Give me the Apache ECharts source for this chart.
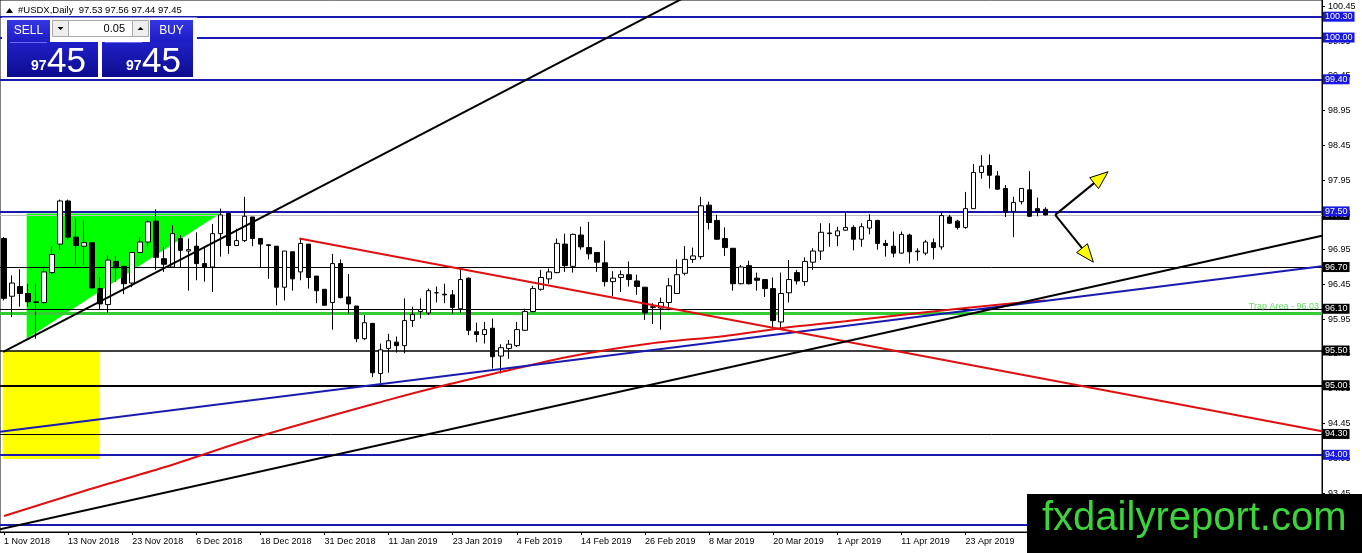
<!DOCTYPE html>
<html><head><meta charset="utf-8">
<script src="https://cdn.jsdelivr.net/npm/echarts@6/dist/echarts.min.js"></script>
<style>html,body{margin:0;padding:0;background:#fff}#c{width:1362px;height:553px}</style>
</head><body><div id="c"></div><script>
const symbolName = '#USDX,Daily';
const dateLabels = ['1 Nov 2018','13 Nov 2018','23 Nov 2018','6 Dec 2018','18 Dec 2018','31 Dec 2018','11 Jan 2019','23 Jan 2019','4 Feb 2019','14 Feb 2019','26 Feb 2019','8 Mar 2019','20 Mar 2019','1 Apr 2019','11 Apr 2019','23 Apr 2019'];
const opens = [97.11,96.28,96.42,96.32,96.19,96.19,96.62,97.03,97.65,97.13,
 97.00,97.05,96.39,96.16,96.78,96.71,96.47,96.91,97.06,97.36,
 96.82,96.70,97.11,96.93,97.00,96.75,96.70,97.18,97.47,97.01,
 97.08,97.42,97.11,97.02,97.00,96.41,96.92,96.63,97.03,96.57,
 96.38,96.19,96.75,96.27,96.14,95.67,95.89,95.17,95.53,95.62,
 95.57,95.93,96.06,96.04,96.33,96.31,96.30,96.10,96.54,95.77,
 95.73,95.82,95.42,95.53,95.57,95.79,96.06,96.38,96.53,96.62,
 97.03,96.71,97.16,96.98,96.91,96.76,96.49,96.55,96.59,96.50,
 96.41,96.12,96.11,96.19,96.32,96.61,96.81,96.85,97.59,97.37,
 97.11,96.97,96.46,96.72,96.54,96.52,96.39,95.91,96.33,96.62,
 96.49,96.77,96.93,97.18,97.15,97.23,97.27,97.10,97.26,97.37,
 97.04,97.00,96.90,97.16,96.92,96.90,97.05,96.99,97.42,97.36,
 97.27,97.54,98.06,98.16,98.01,97.83,97.50,97.64,97.81,97.54,
 97.53];
const closes = [96.25,96.47,96.32,96.20,96.20,96.63,96.88,97.65,97.13,97.01,
 97.05,96.40,96.17,96.80,96.69,96.46,96.91,97.06,97.35,96.84,
 96.74,97.18,96.94,96.95,96.75,96.70,97.18,97.45,97.01,97.08,
 97.43,97.11,97.03,97.01,96.41,96.93,96.53,97.04,96.55,96.36,
 96.15,96.75,96.26,96.17,95.67,95.90,95.18,95.51,95.64,95.57,
 95.93,96.02,96.09,96.36,96.33,96.30,96.12,96.52,95.79,95.73,
 95.80,95.41,95.54,95.59,95.80,96.06,96.39,96.55,96.63,97.04,
 96.72,97.17,96.99,96.89,96.77,96.49,96.54,96.59,96.52,96.42,
 96.04,96.13,96.19,96.43,96.59,96.81,96.86,97.58,97.34,97.10,
 96.98,96.46,96.70,96.46,96.51,96.39,95.93,96.32,96.52,96.50,
 96.78,96.93,97.20,97.19,97.22,97.27,97.10,97.28,97.37,97.04,
 97.01,96.90,97.17,96.92,96.93,97.06,96.98,97.44,97.33,97.27,
 97.54,98.06,98.15,98.02,97.82,97.49,97.63,97.83,97.43,97.49,
 97.45];
const highs = [97.13,96.58,96.67,96.46,96.46,96.71,96.99,97.67,97.67,97.40,
 97.37,97.05,96.55,96.87,96.86,96.71,96.91,97.13,97.37,97.53,
 96.99,97.30,97.16,97.11,97.20,97.00,97.32,97.54,97.47,97.25,
 97.71,97.42,97.11,97.03,97.00,96.93,96.92,97.11,97.03,96.57,
 96.38,96.89,96.81,96.60,96.14,96.01,95.89,95.60,95.74,95.70,
 96.25,96.13,96.25,96.39,96.42,96.46,96.37,96.68,96.55,95.90,
 95.91,95.96,95.59,95.65,95.91,96.10,96.43,96.66,96.68,97.11,
 97.18,97.18,97.28,97.35,96.91,97.08,96.64,96.65,96.78,96.59,
 96.41,96.18,96.26,96.54,96.81,97.00,96.98,97.71,97.64,97.45,
 97.27,96.97,96.73,96.79,96.62,96.52,96.55,96.62,96.80,96.66,
 96.84,96.97,97.33,97.33,97.28,97.49,97.30,97.33,97.46,97.38,
 97.09,97.21,97.21,97.18,96.97,97.09,97.11,97.48,97.45,97.38,
 97.78,98.18,98.31,98.32,98.08,97.88,97.71,97.83,98.08,97.70,
 97.56];
const lows = [96.22,95.98,96.13,96.13,95.67,96.17,96.60,96.94,97.10,96.73,
 96.73,96.39,96.09,96.04,96.49,96.31,96.41,96.90,97.00,96.66,
 96.63,96.70,96.70,96.36,96.51,96.49,96.34,96.85,96.89,97.00,
 97.06,97.00,96.70,96.53,96.15,96.22,96.36,96.51,96.39,96.18,
 96.15,95.80,96.25,96.03,95.62,95.65,95.12,95.03,95.18,95.47,
 95.46,95.84,95.96,96.01,96.19,96.18,96.03,96.04,95.72,95.62,
 95.60,95.24,95.17,95.38,95.55,95.78,96.05,96.36,96.46,96.61,
 96.63,96.62,96.95,96.81,96.63,96.42,96.28,96.34,96.42,96.30,
 95.94,95.88,95.80,96.08,96.32,96.58,96.76,96.81,97.24,97.09,
 96.86,96.36,96.45,96.45,96.36,96.27,95.83,95.82,96.19,96.45,
 96.43,96.66,96.80,96.99,97.00,97.22,96.94,96.99,97.17,96.95,
 96.85,96.84,96.89,96.75,96.79,96.87,96.81,96.95,97.32,97.24,
 97.25,97.54,97.97,97.83,97.81,97.42,97.13,97.60,97.42,97.43,
 97.44];
const slotCount = 165;
const blueLevels = [100.30, 100.00, 99.40, 97.50, 94.00, 93.00];
const blackLevels = [96.70, 96.10, 95.50, 95.00, 94.30];
const trapLevel = 96.03;
const bidLevel = 97.45;
const yTickValues = [93.45, 93.95, 94.45, 94.95, 95.45, 95.95, 96.45, 96.95, 97.45, 97.95, 98.45, 98.95, 99.45, 99.95, 100.45];
const maIndex = [0, 10, 20, 32, 48, 55, 62, 70, 80, 90, 97, 105, 115, 125, 130];
const maValues = [93.12, 93.48, 93.82, 94.27, 94.79, 95.00, 95.19, 95.40, 95.59, 95.71, 95.82, 95.92, 96.05, 96.17, 96.22];
const steepLine = [[-0.1, 95.48], [86, 100.64]];
const lowerLine = [[-0.5, 92.93], [164.5, 97.15]];
const blueTrend = [[-0.5, 94.33], [164.5, 96.71]];
const redDown = [[36.86, 97.11], [164.5, 94.34]];
const greenTriangle = [[2.83, 97.47], [26.96, 97.47], [2.83, 95.67]];
const yellowBox = [[-0.16, 95.49], [11.86, 95.49], [11.86, 93.94], [-0.16, 93.94]];
const arrowApex = [131.2, 97.45];
const arrowTips = [[137.8, 98.07], [135.96, 96.77]];

const FONT = "'Liberation Sans', Arial, sans-serif";
const BLUE_LINE = '#1a1ab0';
const BLUE_TAG = '#1818e0';
const slots = Array.from({length: slotCount}, (_, i) => i);
const lastIdx = closes.length - 1;
const labelOn = (i) => i % 8 === 0 && (i / 8) < dateLabels.length;

function tag(bg) {
  return {show: true, position: 'end', distance: 1, formatter: (p) => p.value.toFixed(2),
    color: '#fff', backgroundColor: bg, padding: [1, 2, 0, 2], fontSize: 9, fontFamily: FONT, lineHeight: 9};
}
const mainLines = [];
blackLevels.forEach(v => mainLines.push({yAxis: v, lineStyle: {color: '#000', width: v === 95.00 ? 2 : (v === 95.50 ? 1.5 : 1), type: 'solid'}, label: tag('#000')}));
blueLevels.forEach(v => mainLines.push({yAxis: v, lineStyle: {color: BLUE_LINE, width: 2, type: 'solid'}, label: tag(BLUE_TAG)}));
mainLines.push({yAxis: trapLevel, lineStyle: {color: '#33cc33', width: 3, type: 'solid'},
  label: {show: true, position: 'insideEndTop', distance: 3, formatter: 'Trap Area - ' + trapLevel.toFixed(2), color: '#66d966', fontSize: 9, fontFamily: FONT}});

function polySeries(points, fill, z) {
  return {type: 'custom', xAxisIndex: 1, yAxisIndex: 0, data: [[0, 95]], z: z, silent: true, animation: false,
    renderItem: (params, api) => ({type: 'polygon', shape: {points: points.map(p => api.coord(p))}, style: {fill: fill}})};
}
function lineSeries(data, color, z, smooth) {
  return {type: 'line', xAxisIndex: 1, yAxisIndex: 0, data: data, symbol: 'none', smooth: smooth || false, z: z,
    silent: true, animation: false, lineStyle: {color: color, width: 2}};
}

const last = closes[lastIdx].toFixed(2).split('.');
const gfx = [];
// header
gfx.push({type: 'polygon', z: 100, shape: {points: [[6, 13], [9.5, 8], [13, 13]]}, style: {fill: '#000'}});
gfx.push({type: 'text', z: 100, x: 18, y: 10, style: {text: symbolName + '  ' + opens[lastIdx].toFixed(2) + ' ' + highs[lastIdx].toFixed(2) + ' ' + lows[lastIdx].toFixed(2) + ' ' + closes[lastIdx].toFixed(2), fill: '#000', font: '9.5px ' + FONT, verticalAlign: 'middle'}});
// widget background
gfx.push({type: 'rect', z: 100, shape: {x: 2, y: 17.5, width: 195, height: 59.5}, style: {fill: '#fff'}});
const btnGrad = {type: 'linear', x: 0, y: 0, x2: 0, y2: 1, colorStops: [{offset: 0, color: '#3636e4'}, {offset: 1, color: '#1c1cc4'}]};
const boxGrad = {type: 'linear', x: 0, y: 0, x2: 0, y2: 1, colorStops: [{offset: 0, color: '#2020c8'}, {offset: 1, color: '#0c0c8e'}]};
[[7, 'SELL'], [150, 'BUY']].forEach(([x, t]) => {
  gfx.push({type: 'rect', z: 101, shape: {x: x, y: 20, width: 43, height: 22}, style: {fill: btnGrad}});
  gfx.push({type: 'text', z: 102, x: x + 21.5, y: 31, style: {text: t, fill: '#fff', font: '12px ' + FONT, align: 'center', verticalAlign: 'middle'}});
});
[7, 102].forEach(x => {
  gfx.push({type: 'rect', z: 101, shape: {x: x, y: 42, width: 91, height: 35}, style: {fill: boxGrad}});
  gfx.push({type: 'line', z: 102, shape: {x1: x + 3, y1: 42.5, x2: x + 40, y2: 42.5}, style: {stroke: '#6a6af0', lineWidth: 1}});
  gfx.push({type: 'text', z: 102, x: x + 24, y: 73, style: {text: last[0], fill: '#fff', font: 'bold 14px ' + FONT, verticalAlign: 'bottom'}});
  gfx.push({type: 'text', z: 102, x: x + 40, y: 80, style: {text: last[1], fill: '#fff', font: '35px ' + FONT, verticalAlign: 'bottom'}});
});
// spinner
[[52, 'down'], [132, 'up']].forEach(([x, d]) => {
  gfx.push({type: 'rect', z: 101, shape: {x: x + 0.5, y: 20.5, width: 16, height: 16}, style: {fill: '#eeeeee', stroke: '#a8a8a8', lineWidth: 1}});
  const cx = x + 8.5, cy = 28.5;
  const pts = d === 'down' ? [[cx - 3, cy - 1.5], [cx + 3, cy - 1.5], [cx, cy + 1.5]] : [[cx - 3, cy + 1.5], [cx + 3, cy + 1.5], [cx, cy - 1.5]];
  gfx.push({type: 'polygon', z: 102, shape: {points: pts}, style: {fill: '#000'}});
});
gfx.push({type: 'rect', z: 101, shape: {x: 68.5, y: 20.5, width: 64, height: 16}, style: {fill: '#fff', stroke: '#a8a8a8', lineWidth: 1}});
gfx.push({type: 'text', z: 102, x: 125, y: 29, style: {text: '0.05', fill: '#000', font: '11px ' + FONT, align: 'right', verticalAlign: 'middle'}});
// logo
gfx.push({type: 'rect', z: 100, shape: {x: 1027, y: 494, width: 335, height: 59}, style: {fill: '#000'}});
gfx.push({type: 'text', z: 101, x: 1042, y: 519, style: {text: 'fxdailyreport.com', fill: '#3cd33c', font: '40px ' + FONT, verticalAlign: 'middle'}});

const option = {
  animation: false,
  backgroundColor: '#fff',
  grid: {left: 0, right: 40, top: 0, bottom: 21, show: true, borderColor: '#000', borderWidth: 1, backgroundColor: '#fff'},
  xAxis: [
    {type: 'category', data: slots, boundaryGap: true,
      axisLine: {show: true, onZero: false, lineStyle: {color: '#000', width: 1}},
      axisTick: {show: true, alignWithLabel: true, interval: (i) => labelOn(i), length: 3, lineStyle: {color: '#000'}},
      axisLabel: {show: true, interval: (i) => labelOn(i), formatter: (v, i) => labelOn(i) ? dateLabels[i / 8] : '',
        align: 'left', margin: 5, fontSize: 9, fontFamily: FONT, color: '#000'},
      splitLine: {show: false}},
    {type: 'value', min: -0.5, max: slotCount - 0.5, show: false, axisLine: {onZero: false}}
  ],
  yAxis: {type: 'value', position: 'right', min: 92.89, max: 100.54, scale: true,
    axisLine: {show: true, onZero: false, lineStyle: {color: '#000', width: 1}},
    axisTick: {show: true, length: 3, customValues: yTickValues, lineStyle: {color: '#000'}},
    axisLabel: {show: true, customValues: yTickValues, formatter: (v) => v.toFixed(2), margin: 6, fontSize: 9, fontFamily: FONT, color: '#000'},
    splitLine: {show: false}},
  graphic: gfx,
  series: [
    polySeries(yellowBox, '#ffff00', 1),
    polySeries(greenTriangle, '#00ff00', 1),
    {type: 'line', xAxisIndex: 1, yAxisIndex: 0, data: [], z: 2, animation: false,
      markLine: {silent: true, symbol: ['none', 'none'], animation: false,
        data: [{yAxis: bidLevel, lineStyle: {color: '#c0c0c0', width: 1, type: 'solid'}, label: tag('#000')}]}},
    {type: 'line', xAxisIndex: 1, yAxisIndex: 0, data: [], z: 3, animation: false,
      markLine: {silent: true, symbol: ['none', 'none'], animation: false, data: mainLines}},
    {type: 'candlestick', xAxisIndex: 0, yAxisIndex: 0, barWidth: 5, z: 5, animation: false,
      data: opens.map((o, i) => [o, closes[i], lows[i], highs[i]]),
      itemStyle: {color: '#fff', color0: '#000', borderColor: '#000', borderColor0: '#000', borderWidth: 1}},
    lineSeries(maIndex.map((x, i) => [x, maValues[i]]), '#e01010', 6, 0.3),
    lineSeries(blueTrend, BLUE_LINE, 6),
    lineSeries(redDown, '#e01010', 6),
    lineSeries(steepLine, '#000', 6),
    lineSeries(lowerLine, '#000', 6),
    {type: 'custom', xAxisIndex: 1, yAxisIndex: 0, data: [[0, 95]], z: 8, silent: true, animation: false,
      renderItem: (params, api) => {
        const a = api.coord(arrowApex);
        const children = [];
        arrowTips.forEach(tp => {
          const t = api.coord(tp);
          const dx = t[0] - a[0], dy = t[1] - a[1];
          const len = Math.sqrt(dx * dx + dy * dy);
          const ux = dx / len, uy = dy / len;
          const L = 18, W = 7;
          const bx = t[0] - ux * L, by = t[1] - uy * L;
          children.push({type: 'line', shape: {x1: a[0], y1: a[1], x2: bx, y2: by}, style: {stroke: '#000', lineWidth: 2}});
          children.push({type: 'polygon', shape: {points: [t, [bx - uy * W, by + ux * W], [bx + uy * W, by - ux * W]]}, style: {fill: '#ffff00', stroke: '#000', lineWidth: 1}});
        });
        return {type: 'group', children: children};
      }}
  ]
};
const chart = echarts.init(document.getElementById('c'));
chart.setOption(option);
</script></body></html>
